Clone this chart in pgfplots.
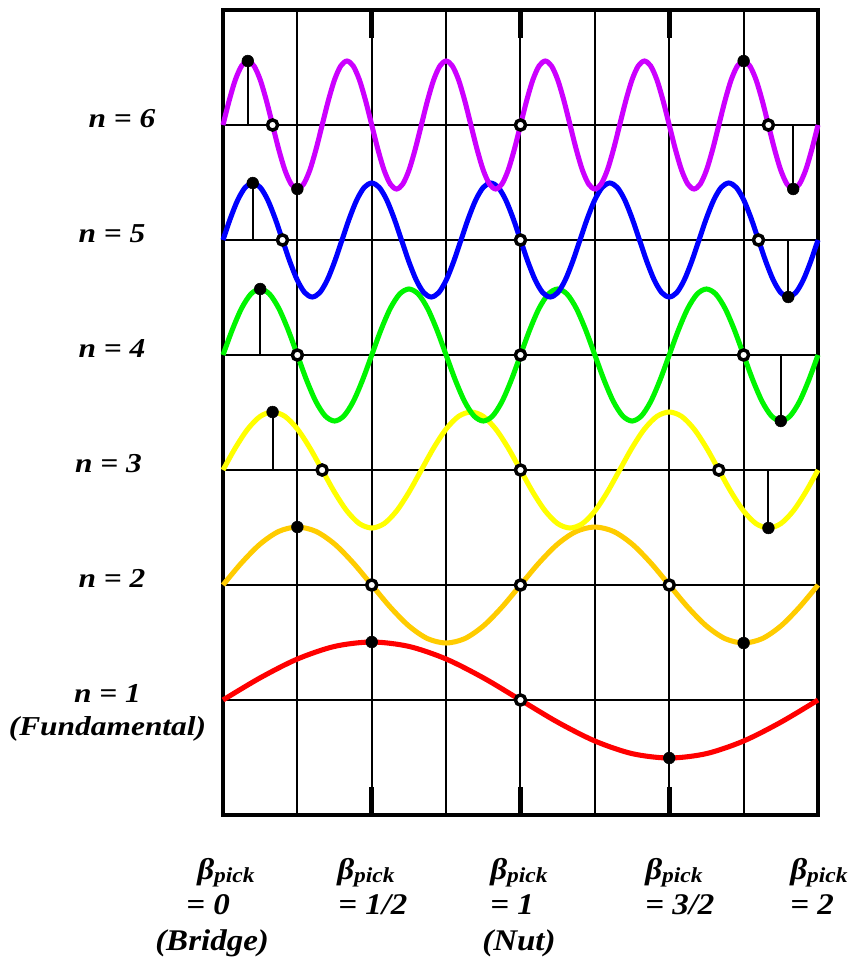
\documentclass[border=0pt]{standalone}
\usepackage{fontspec}
\setmainfont{Liberation Serif}[BoldItalicFont={Liberation Serif Bold Italic}]
\usepackage{graphicx}
\usepackage{pgfplots}
\pgfplotsset{compat=1.18}
\definecolor{cmag}{RGB}{204,0,255}
\definecolor{cblue}{RGB}{0,0,255}
\definecolor{cgreen}{RGB}{0,245,0}
\definecolor{cyell}{RGB}{255,255,0}
\definecolor{corange}{RGB}{255,204,0}
\definecolor{cred}{RGB}{255,0,0}
\newcommand\lab{\rmfamily\bfseries\itshape}
\newcommand\sx[1]{\scalebox{1.15}[1]{#1}}
\newcommand\sy[1]{\scalebox{1.1}[1]{#1}}
\newcommand\bp{\sy{β\raisebox{-2.5pt}{\fontsize{16}{16}\selectfont pick}}}
\begin{document}
\begin{tikzpicture}
\begin{axis}[
  scale only axis, width=446.25pt, height=603.75pt,
  xmin=0, xmax=480, ymin=10, ymax=815, y dir=reverse,
  clip=false,
  xtick={60,120,180,240,300,360,420},
  ytick={125,240,355,470,585,700},
  xticklabels={}, yticklabels={},
  major tick length=0pt,
  grid=major, grid style={black, line width=1.5pt},
  axis line style={line width=3.6pt},
  curve/.style={smooth, line width=3.8pt, mark=none},
  stem/.style={black, line width=1.5pt, mark=none},
]
% bounding box
\path (axis cs:-179.9,0) rectangle (axis cs:502.6,958);

% stems
\addplot[stem] coordinates {(20,125)(20,61)};
\addplot[stem] coordinates {(460,125)(460,189)};
\addplot[stem] coordinates {(24,240)(24,183)};
\addplot[stem] coordinates {(456,240)(456,297)};
\addplot[stem] coordinates {(30,355)(30,289)};
\addplot[stem] coordinates {(450,355)(450,421)};
\addplot[stem] coordinates {(40,470)(40,412)};
\addplot[stem] coordinates {(440,470)(440,528)};

% n = 1
\addplot[curve, cred] coordinates {(0,700)(30,677.8)(60,659)(90,646.4)(120,642)(150,646.4)(180,659)(210,677.8)(240,700)(270,722.2)(300,741)(330,753.6)(360,758)(390,753.6)(420,741)(450,722.2)(480,700)};
% n = 2
\addplot[curve, corange] coordinates {(0,585)(15,562.8)(30,544)(45,531.4)(60,527)(75,531.4)(90,544)(105,562.8)(120,585)(135,607.2)(150,626)(165,638.6)(180,643)(195,638.6)(210,626)(225,607.2)(240,585)(255,562.8)(270,544)(285,531.4)(300,527)(315,531.4)(330,544)(345,562.8)(360,585)(375,607.2)(390,626)(405,638.6)(420,643)(435,638.6)(450,626)(465,607.2)(480,585)};
% n = 3
\addplot[curve, cyell] coordinates {(0,470)(10,447.8)(20,429)(30,416.4)(40,412)(50,416.4)(60,429)(70,447.8)(80,470)(90,492.2)(100,511)(110,523.6)(120,528)(130,523.6)(140,511)(150,492.2)
(160,470)(170,447.8)(180,429)(190,416.4)(200,412)(210,416.4)(220,429)(230,447.8)(240,470)(250,492.2)(260,511)(270,523.6)(280,528)(290,523.6)(300,511)(310,492.2)
(320,470)(330,447.8)(340,429)(350,416.4)(360,412)(370,416.4)(380,429)(390,447.8)(400,470)(410,492.2)(420,511)(430,523.6)(440,528)(450,523.6)(460,511)(470,492.2)(480,470)};
% n = 4
\addplot[curve, cgreen] coordinates {(0,355)(7.5,329.7)(15,308.3)(22.5,294)(30,289)(37.5,294)(45,308.3)(52.5,329.7)(60,355)(67.5,380.3)(75,401.7)(82.5,416)(90,421)(97.5,416)(105,401.7)(112.5,380.3)
(120,355)(127.5,329.7)(135,308.3)(142.5,294)(150,289)(157.5,294)(165,308.3)(172.5,329.7)(180,355)(187.5,380.3)(195,401.7)(202.5,416)(210,421)(217.5,416)(225,401.7)(232.5,380.3)
(240,355)(247.5,329.7)(255,308.3)(262.5,294)(270,289)(277.5,294)(285,308.3)(292.5,329.7)(300,355)(307.5,380.3)(315,401.7)(322.5,416)(330,421)(337.5,416)(345,401.7)(352.5,380.3)
(360,355)(367.5,329.7)(375,308.3)(382.5,294)(390,289)(397.5,294)(405,308.3)(412.5,329.7)(420,355)(427.5,380.3)(435,401.7)(442.5,416)(450,421)(457.5,416)(465,401.7)(472.5,380.3)(480,355)};
% n = 5
\addplot[curve, cblue] coordinates {(0,240)(6,218.2)(12,199.7)(18,187.3)(24,183)(30,187.3)(36,199.7)(42,218.2)(48,240)(54,261.8)(60,280.3)(66,292.7)(72,297)(78,292.7)(84,280.3)(90,261.8)
(96,240)(102,218.2)(108,199.7)(114,187.3)(120,183)(126,187.3)(132,199.7)(138,218.2)(144,240)(150,261.8)(156,280.3)(162,292.7)(168,297)(174,292.7)(180,280.3)(186,261.8)
(192,240)(198,218.2)(204,199.7)(210,187.3)(216,183)(222,187.3)(228,199.7)(234,218.2)(240,240)(246,261.8)(252,280.3)(258,292.7)(264,297)(270,292.7)(276,280.3)(282,261.8)
(288,240)(294,218.2)(300,199.7)(306,187.3)(312,183)(318,187.3)(324,199.7)(330,218.2)(336,240)(342,261.8)(348,280.3)(354,292.7)(360,297)(366,292.7)(372,280.3)(378,261.8)
(384,240)(390,218.2)(396,199.7)(402,187.3)(408,183)(414,187.3)(420,199.7)(426,218.2)(432,240)(438,261.8)(444,280.3)(450,292.7)(456,297)(462,292.7)(468,280.3)(474,261.8)(480,240)};
% n = 6
\addplot[curve, cmag] coordinates {(0,125)(5,100.5)(10,79.7)(15,65.9)(20,61)(25,65.9)(30,79.7)(35,100.5)(40,125)(45,149.5)(50,170.3)(55,184.1)(60,189)(65,184.1)(70,170.3)(75,149.5)
(80,125)(85,100.5)(90,79.7)(95,65.9)(100,61)(105,65.9)(110,79.7)(115,100.5)(120,125)(125,149.5)(130,170.3)(135,184.1)(140,189)(145,184.1)(150,170.3)(155,149.5)
(160,125)(165,100.5)(170,79.7)(175,65.9)(180,61)(185,65.9)(190,79.7)(195,100.5)(200,125)(205,149.5)(210,170.3)(215,184.1)(220,189)(225,184.1)(230,170.3)(235,149.5)
(240,125)(245,100.5)(250,79.7)(255,65.9)(260,61)(265,65.9)(270,79.7)(275,100.5)(280,125)(285,149.5)(290,170.3)(295,184.1)(300,189)(305,184.1)(310,170.3)(315,149.5)
(320,125)(325,100.5)(330,79.7)(335,65.9)(340,61)(345,65.9)(350,79.7)(355,100.5)(360,125)(365,149.5)(370,170.3)(375,184.1)(380,189)(385,184.1)(390,170.3)(395,149.5)
(400,125)(405,100.5)(410,79.7)(415,65.9)(420,61)(425,65.9)(430,79.7)(435,100.5)(440,125)(445,149.5)(450,170.3)(455,184.1)(460,189)(465,184.1)(470,170.3)(475,149.5)(480,125)};

% filled dots
\addplot[only marks, mark=*, mark size=4.4pt, black] coordinates {(20,61)(60,189)(420,61)(460,189)(24,183)(456,297)(30,289)(450,421)(40,412)(440,528)(60,527)(420,643)(120,642)(360,758)};
% open circles
\addplot[only marks, mark=*, mark size=3.8pt, mark options={draw=black, fill=white, line width=2.6pt}] coordinates {(40,125)(240,125)(440,125)(48,240)(240,240)(432,240)(60,355)(240,355)(420,355)(80,470)(240,470)(400,470)(120,585)(240,585)(360,585)(240,700)};

% thick ticks
\draw[line width=3.4pt] (axis cs:120,10) -- (axis cs:120,38);
\draw[line width=3.4pt] (axis cs:240,10) -- (axis cs:240,38);
\draw[line width=3.4pt] (axis cs:360,10) -- (axis cs:360,38);
\draw[line width=3.4pt] (axis cs:120,787) -- (axis cs:120,815);
\draw[line width=3.4pt] (axis cs:240,787) -- (axis cs:240,815);
\draw[line width=3.4pt] (axis cs:360,787) -- (axis cs:360,815);

% left labels
\tikzset{lbl/.style={anchor=base, inner sep=0pt, font=\fontsize{20.5}{24}\selectfont\lab}}
\node[lbl] at (axis cs:-81.5,127) {\sx{n = 6}};
\node[lbl] at (axis cs:-89.5,242) {\sx{n = 5}};
\node[lbl] at (axis cs:-89.5,357) {\sx{n = 4}};
\node[lbl] at (axis cs:-92.4,472) {\sx{n = 3}};
\node[lbl] at (axis cs:-89.5,587) {\sx{n = 2}};
\node[lbl] at (axis cs:-93.2,702) {\sx{n = 1}};
\node[lbl] at (axis cs:-93.2,735) {\sx{(Fundamental)}};

% bottom labels
\tikzset{blbl/.style={anchor=base west, inner sep=0pt, font=\fontsize{22.5}{26}\selectfont\lab}}
\node[blbl] at (axis cs:-20.97,879) {\bp};
\node[blbl] at (axis cs:-29.85,914) {\sy{= 0}};
\node[blbl] at (axis cs:-54.86,950) {\sy{(Bridge)}};
\node[blbl] at (axis cs:91.97,879) {\bp};
\node[blbl] at (axis cs:92.77,914) {\sy{= 1/2}};
\node[blbl] at (axis cs:215.39,879) {\bp};
\node[blbl] at (axis cs:215.39,914) {\sy{= 1}};
\node[blbl] at (axis cs:208.94,950) {\sy{(Nut)}};
\node[blbl] at (axis cs:340.44,879) {\bp};
\node[blbl] at (axis cs:340.44,914) {\sy{= 3/2}};
\node[blbl] at (axis cs:457.41,879) {\bp};
\node[blbl] at (axis cs:457.41,914) {\sy{= 2}};
\end{axis}
\end{tikzpicture}
\end{document}
